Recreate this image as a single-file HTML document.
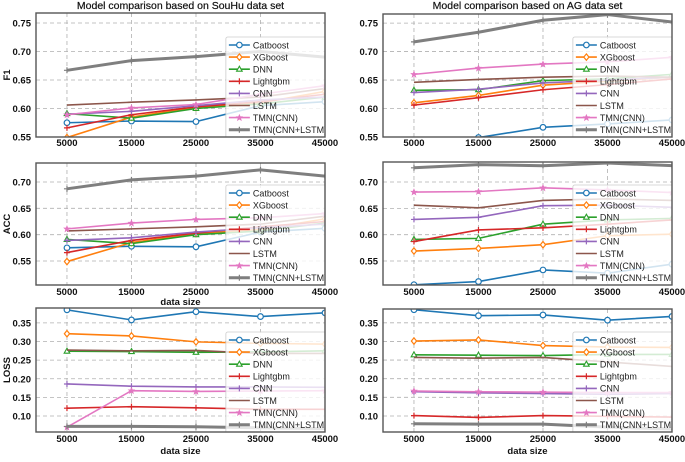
<!DOCTYPE html>
<html><head><meta charset="utf-8"><style>
body{margin:0;background:#fff;}
svg text{font-family:"Liberation Sans","DejaVu Sans",sans-serif;}
</style></head><body>
<svg id="chart" width="685" height="457" xmlns="http://www.w3.org/2000/svg"></svg>
<script>
const xCategories = [5000, 15000, 25000, 35000, 45000];
const seriesNames = ["Catboost","XGboost","DNN","Lightgbm","CNN","LSTM","TMN(CNN)","TMN(CNN+LSTM)"];
const f1SouHu = {
  "Catboost":[0.575,0.578,0.577,0.605,0.612],
  "XGboost":[0.549,0.585,0.602,0.610,0.630],
  "DNN":[0.591,0.583,0.600,0.608,0.620],
  "Lightgbm":[0.566,0.589,0.603,0.612,0.625],
  "CNN":[0.590,0.595,0.605,0.615,0.620],
  "LSTM":[0.606,0.611,0.615,0.620,0.635],
  "TMN(CNN)":[0.589,0.601,0.607,0.625,0.640],
  "TMN(CNN+LSTM)":[0.667,0.684,0.691,0.700,0.690]};
const f1AG = {
  "Catboost":[0.530,0.549,0.567,0.573,0.580],
  "XGboost":[0.610,0.623,0.641,0.648,0.655],
  "DNN":[0.632,0.633,0.649,0.652,0.660],
  "Lightgbm":[0.606,0.619,0.633,0.642,0.652],
  "CNN":[0.628,0.634,0.645,0.650,0.655],
  "LSTM":[0.646,0.651,0.655,0.657,0.655],
  "TMN(CNN)":[0.660,0.671,0.678,0.682,0.690],
  "TMN(CNN+LSTM)":[0.717,0.734,0.755,0.765,0.752]};
const accSouHu = {
  "Catboost":[0.575,0.578,0.577,0.605,0.612],
  "XGboost":[0.549,0.585,0.602,0.610,0.630],
  "DNN":[0.591,0.583,0.600,0.607,0.622],
  "Lightgbm":[0.566,0.589,0.603,0.615,0.625],
  "CNN":[0.589,0.594,0.605,0.613,0.620],
  "LSTM":[0.607,0.611,0.615,0.620,0.635],
  "TMN(CNN)":[0.611,0.622,0.629,0.632,0.640],
  "TMN(CNN+LSTM)":[0.687,0.704,0.711,0.723,0.711]};
const accAG = {
  "Catboost":[0.505,0.511,0.533,0.527,0.544],
  "XGboost":[0.569,0.574,0.581,0.598,0.601],
  "DNN":[0.591,0.593,0.620,0.628,0.631],
  "Lightgbm":[0.587,0.609,0.613,0.620,0.628],
  "CNN":[0.629,0.633,0.655,0.656,0.652],
  "LSTM":[0.656,0.651,0.665,0.668,0.665],
  "TMN(CNN)":[0.681,0.682,0.689,0.685,0.680],
  "TMN(CNN+LSTM)":[0.727,0.733,0.731,0.736,0.731]};
const lossSouHu = {
  "Catboost":[0.385,0.358,0.380,0.367,0.377],
  "XGboost":[0.321,0.315,0.299,0.295,0.293],
  "DNN":[0.274,0.273,0.271,0.272,0.275],
  "Lightgbm":[0.121,0.125,0.122,0.118,0.118],
  "CNN":[0.186,0.180,0.178,0.178,0.177],
  "LSTM":[0.277,0.275,0.276,0.268,0.268],
  "TMN(CNN)":[0.070,0.168,0.166,0.167,0.168],
  "TMN(CNN+LSTM)":[0.072,0.072,0.071,0.068,0.066]};
const lossAG = {
  "Catboost":[0.385,0.369,0.371,0.357,0.367],
  "XGboost":[0.301,0.304,0.289,0.285,0.284],
  "DNN":[0.264,0.263,0.262,0.265,0.265],
  "Lightgbm":[0.101,0.096,0.101,0.099,0.097],
  "CNN":[0.165,0.162,0.160,0.158,0.160],
  "LSTM":[0.257,0.255,0.257,0.245,0.233],
  "TMN(CNN)":[0.167,0.165,0.164,0.163,0.163],
  "TMN(CNN+LSTM)":[0.079,0.078,0.078,0.070,0.065]};
const xTickLabels = ["5000","15000","25000","35000","45000"];
const f1Ticks = [0.55,0.60,0.65,0.70,0.75];
const accTicks = [0.55,0.60,0.65,0.70];
const lossTicks = [0.10,0.15,0.20,0.25,0.30,0.35];

const colors = {"Catboost":"#1f77b4","XGboost":"#ff7f0e","DNN":"#2ca02c","Lightgbm":"#d62728","CNN":"#9467bd","LSTM":"#8c564b","TMN(CNN)":"#e377c2","TMN(CNN+LSTM)":"#7f7f7f"};
const markers = {"Catboost":"circle","XGboost":"diamond","DNN":"triangle","Lightgbm":"plus","CNN":"plus","LSTM":"none","TMN(CNN)":"star","TMN(CNN+LSTM)":"plus"};

const panels = [
 {id:"f1-souhu",data:f1SouHu,ticks:f1Ticks,x0:36,x1:325,y0:13,y1:137,ymin:0.55,ymax:0.7675,title:"Model comparison based on SouHu data set",ylabel:"F1",xlabel:false,xl:146},
 {id:"f1-ag",data:f1AG,ticks:f1Ticks,x0:383,x1:672,y0:14,y1:137,ymin:0.55,ymax:0.766,title:"Model comparison based on AG data set",ylabel:"",xlabel:false,xl:146},
 {id:"acc-souhu",data:accSouHu,ticks:accTicks,x0:36,x1:325,y0:163,y1:285,ymin:0.5045,ymax:0.736,ylabel:"ACC",xlabel:true,xl:295,xlY:305},
 {id:"acc-ag",data:accAG,ticks:accTicks,x0:383,x1:672,y0:162,y1:285,ymin:0.5045,ymax:0.738,ylabel:"",xlabel:false,xl:295},
 {id:"loss-souhu",data:lossSouHu,ticks:lossTicks,x0:36,x1:325,y0:308,y1:432,ymin:0.057,ymax:0.39,ylabel:"LOSS",xlabel:true,xl:442,xlY:454},
 {id:"loss-ag",data:lossAG,ticks:lossTicks,x0:383,x1:672,y0:309,y1:432,ymin:0.057,ymax:0.387,ylabel:"",xlabel:true,xl:442,xlY:454}
];
const XMIN=200, XMAX=45000;
const NS="http://www.w3.org/2000/svg";
const svg=document.getElementById('chart');
function mk(tag,attrs,parent){const e=document.createElementNS(NS,tag);for(const k in attrs)e.setAttribute(k,attrs[k]);(parent||svg).appendChild(e);return e;}
function marker(g,type,x,y,c){
  let e;
  if(type==="circle"){e=mk('circle',{cx:x,cy:y,r:2.8,fill:'#fff',stroke:c,'stroke-width':1.2},g);}
  else if(type==="diamond"){e=mk('path',{d:`M${x},${y-3.2}L${x+2.6},${y}L${x},${y+3.2}L${x-2.6},${y}Z`,fill:'#fff',stroke:c,'stroke-width':1.2},g);}
  else if(type==="triangle"){e=mk('path',{d:`M${x},${y-3}L${x+2.8},${y+2}L${x-2.8},${y+2}Z`,fill:'#fff',stroke:c,'stroke-width':1.1},g);}
  else if(type==="plus"){e=mk('path',{d:`M${x-3},${y}H${x+3}M${x},${y-3}V${y+3}`,stroke:c,'stroke-width':1.2},g);}
  else if(type==="star"){e=mk('path',{d:`M${x},${y-3}L${x+0.9},${y-0.9}L${x+3},${y-0.9}L${x+1.3},${y+0.6}L${x+1.9},${y+2.8}L${x},${y+1.5}L${x-1.9},${y+2.8}L${x-1.3},${y+0.6}L${x-3},${y-0.9}L${x-0.9},${y-0.9}Z`,fill:c,stroke:c,'stroke-width':0.6},g);}
  if(e){}
}
panels.forEach((p,pi)=>{
  const sx=v=>p.x0+(v-XMIN)/(XMAX-XMIN)*(p.x1-p.x0);
  const sy=v=>p.y1-(v-p.ymin)/(p.ymax-p.ymin)*(p.y1-p.y0);
  const g=mk('g',{});
  
  
  const cid='clip'+pi;
  const cp=mk('clipPath',{id:cid},g);mk('rect',{x:p.x0,y:p.y0,width:p.x1-p.x0,height:p.y1-p.y0},cp);
  xCategories.forEach((v,i)=>{
    const l=mk('line',{x1:sx(v),x2:sx(v),y1:p.y0,y2:p.y1,stroke:'#b0b0b0','stroke-width':0.8,'stroke-dasharray':'4,3'},g);
    
    const t=mk('text',{x:sx(v),y:p.xl,'text-anchor':'middle','font-size':9.5,'font-weight':'bold',fill:'#111'},g);
    t.textContent=xTickLabels[i];
    
  });
  p.ticks.forEach(v=>{
    const l=mk('line',{x1:p.x0,x2:p.x1,y1:sy(v),y2:sy(v),stroke:'#b0b0b0','stroke-width':0.8,'stroke-dasharray':'4,3'},g);
    
    const t=mk('text',{x:p.x0-5,y:sy(v)+3.5,'text-anchor':'end','font-size':9.5,'font-weight':'bold',fill:'#111'},g);
    t.textContent=v.toFixed(2);
    
  });
  const sg=mk('g',{'clip-path':`url(#${cid})`},g);
  seriesNames.forEach(n=>{
    const vals=p.data[n];const c=colors[n];
    const pts=vals.map((v,i)=>sx(xCategories[i])+','+sy(v)).join(' ');
    const lg=mk('g',{},sg);
    
    
    const pl=mk('polyline',{points:pts,fill:'none',stroke:c,'stroke-width':n==="TMN(CNN+LSTM)"?3:1.6},lg);
    
    vals.forEach((v,i)=>marker(lg,markers[n],sx(xCategories[i]),sy(v),c));
  });
  const lx=p.x0+(p.x1-p.x0)*0.657, ly=p.y1-100;
  const leg=mk('g',{'clip-path':`url(#${cid})`},g);
  
  mk('rect',{x:lx,y:ly,width:110,height:102,rx:2,fill:'rgba(255,255,255,0.8)',stroke:'#ccc','stroke-width':0.8},leg);
  seriesNames.forEach((n,i)=>{
    const y=ly+8+i*12.1;const c=colors[n];
    const e=mk('g',{},leg);
    
    mk('line',{x1:lx+3,x2:lx+24,y1:y,y2:y,stroke:c,'stroke-width':n==="TMN(CNN+LSTM)"?3:1.6},e);
    marker(e,markers[n],lx+13.5,y,c);
    const t=mk('text',{x:lx+27,y:y+3.3,'font-size':9,fill:'#222'},e);t.textContent=n;
  });
  const fr=mk('rect',{x:p.x0,y:p.y0,width:p.x1-p.x0,height:p.y1-p.y0,fill:'none',stroke:'#555','stroke-width':1.4},g);
  
  if(p.title){const t=mk('text',{x:(p.x0+p.x1)/2,y:9,'text-anchor':'middle','font-size':10.5,fill:'#111',stroke:'#111','stroke-width':0.2},g);t.textContent=p.title;}
  if(p.ylabel){const cy=(p.y0+p.y1)/2;const t=mk('text',{x:10,y:cy,'text-anchor':'middle','font-size':9.5,'font-weight':'bold',fill:'#111',transform:`rotate(-90 10 ${cy})`},g);t.textContent=p.ylabel;}
  if(p.xlabel){const t=mk('text',{x:(p.x0+p.x1)/2,y:p.xlY,'text-anchor':'middle','font-size':9.5,'font-weight':'bold',fill:'#111'},g);t.textContent='data size';}
});
</script>
</body></html>
